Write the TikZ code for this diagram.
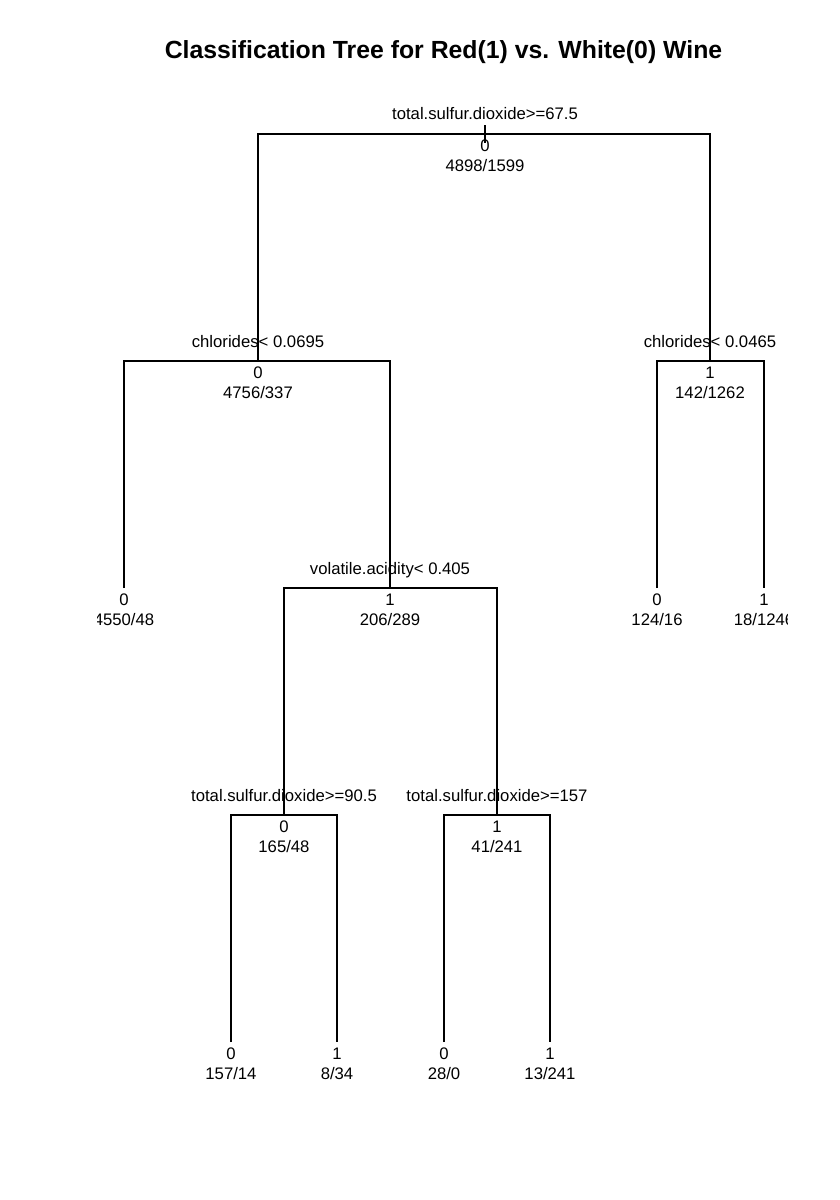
\documentclass[tikz,border=0pt]{standalone}
\usepackage{fontspec}
\setmainfont{Liberation Sans}
\usetikzlibrary{calc}
\begin{document}
\begin{tikzpicture}[x=1pt,y=-1pt,
  edge/.style={line width=1.4pt, line cap=butt},
  txt/.style={anchor=base, inner sep=0pt, font=\fontsize{16.7}{20}\selectfont},
  ttl/.style={anchor=base, inner sep=0pt, font=\fontsize{24.8}{30}\selectfont\bfseries}]
\useasboundingbox (0,0) rectangle (840,1200);
\node[ttl] (title) at (443.5,58) {Classification Tree for Red(1) vs. White(0) Wine};
% tree node positions
\coordinate (n1) at (485,134);
\coordinate (n2) at (258,361);
\coordinate (n3) at (710,361);
\coordinate (n4) at (124,588);
\coordinate (n5) at (390,588);
\coordinate (n6) at (657,588);
\coordinate (n7) at (764,588);
\coordinate (n10) at (284,815);
\coordinate (n11) at (497,815);
\coordinate (n20) at (231,1042);
\coordinate (n21) at (337,1042);
\coordinate (n22) at (444,1042);
\coordinate (n23) at (550,1042);
\coordinate (top) at (485,125);
\coordinate (stubend) at (485,143);
\begin{scope}
\clip (97,80) rectangle (787,1110);
\draw[edge] (top) -- (stubend);
\draw[edge] (n2) |- (n1) -| (n3);
\draw[edge] (n4) |- (n2) -| (n5);
\draw[edge] (n6) |- (n3) -| (n7);
\draw[edge] (n10) |- (n5) -| (n11);
\draw[edge] (n20) |- (n10) -| (n21);
\draw[edge] (n22) |- (n11) -| (n23);
% split labels
\node[txt] (s1) at ($(n1)+(0,-15)$) {total.sulfur.dioxide>=67.5};
\node[txt] (s2) at ($(n2)+(0,-14)$) {chlorides< 0.0695};
\node[txt] (s3) at ($(n3)+(0,-14)$) {chlorides< 0.0465};
\node[txt] (s5) at ($(n5)+(0,-14)$) {volatile.acidity< 0.405};
\node[txt] (s10) at ($(n10)+(0,-14)$) {total.sulfur.dioxide>=90.5};
\node[txt] (s11) at ($(n11)+(0,-14)$) {total.sulfur.dioxide>=157};
% class labels
\node[txt] (c1) at ($(n1)+(0,17)$) {0};
\node[txt] (c2) at ($(n2)+(0,17)$) {0};
\node[txt] (c3) at ($(n3)+(0,17)$) {1};
\node[txt] (c4) at ($(n4)+(0,17)$) {0};
\node[txt] (c5) at ($(n5)+(0,17)$) {1};
\node[txt] (c6) at ($(n6)+(0,17)$) {0};
\node[txt] (c7) at ($(n7)+(0,17)$) {1};
\node[txt] (c10) at ($(n10)+(0,17)$) {0};
\node[txt] (c11) at ($(n11)+(0,17)$) {1};
\node[txt] (c20) at ($(n20)+(0,17)$) {0};
\node[txt] (c21) at ($(n21)+(0,17)$) {1};
\node[txt] (c22) at ($(n22)+(0,17)$) {0};
\node[txt] (c23) at ($(n23)+(0,17)$) {1};
% counts
\node[txt] (k1) at ($(n1)+(0,37)$) {4898/1599};
\node[txt] (k2) at ($(n2)+(0,37)$) {4756/337};
\node[txt] (k3) at ($(n3)+(0,37)$) {142/1262};
\node[txt] (k4) at ($(n4)+(0,37)$) {4550/48};
\node[txt] (k5) at ($(n5)+(0,37)$) {206/289};
\node[txt] (k6) at ($(n6)+(0,37)$) {124/16};
\node[txt] (k7) at ($(n7)+(0,37)$) {18/1246};
\node[txt] (k10) at ($(n10)+(0,37)$) {165/48};
\node[txt] (k11) at ($(n11)+(0,37)$) {41/241};
\node[txt] (k20) at ($(n20)+(0,37)$) {157/14};
\node[txt] (k21) at ($(n21)+(0,37)$) {8/34};
\node[txt] (k22) at ($(n22)+(0,37)$) {28/0};
\node[txt] (k23) at ($(n23)+(0,37)$) {13/241};
\end{scope}
\end{tikzpicture}
\end{document}
